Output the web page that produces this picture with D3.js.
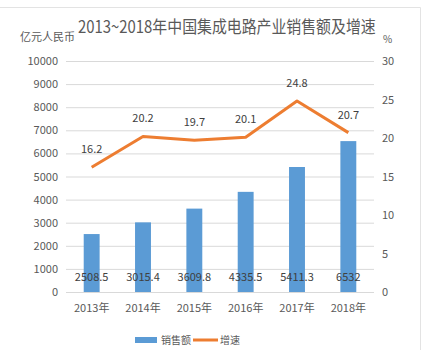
<!DOCTYPE html>
<html>
<head>
<meta charset="utf-8">
<script src="https://cdn.jsdelivr.net/npm/d3@7"></script>
<style>
  body { margin: 0; background: #fff; }
  svg text { font-family: "Liberation Sans Narrow", "Noto Sans CJK SC", sans-serif; fill: #595959; }
</style>
</head>
<body>
<svg width="432" height="350"></svg>
<script>
// 数据
const years = ["2013年", "2014年", "2015年", "2016年", "2017年", "2018年"];
const sales = [2508.5, 3015.4, 3609.8, 4335.5, 5411.3, 6532];
const growth = [16.2, 20.2, 19.7, 20.1, 24.8, 20.7];
const leftTicks = [0, 1000, 2000, 3000, 4000, 5000, 6000, 7000, 8000, 9000, 10000];
const rightTicks = [0, 5, 10, 15, 20, 25, 30];

const svg = d3.select("svg");
const plot = { left: 66, right: 374, top: 61, bottom: 292 };

// 外框
svg.append("path")
   .attr("d", "M0,7.5H420.5V350")
   .attr("fill", "none")
   .attr("stroke", "#e3e3e3");

// 比例尺
const x = d3.scaleBand()
            .domain(years)
            .range([plot.left, plot.right])
            .paddingInner(0.69)
            .paddingOuter(0.345);

const yL = d3.scaleLinear().domain([0, 10000]).range([plot.bottom, plot.top]);
const yR = d3.scaleLinear().domain([0, 30]).range([plot.bottom, plot.top]);

// 网格线
svg.append("g")
   .selectAll("line")
   .data(leftTicks)
   .enter()
   .append("line")
   .attr("x1", plot.left)
   .attr("x2", plot.right)
   .attr("y1", d => yL(d) + 0.5)
   .attr("y2", d => yL(d) + 0.5)
   .attr("stroke", "#d9d9d9");

// 左轴
const axL = svg.append("g")
   .attr("transform", `translate(${plot.left}, 0)`)
   .call(d3.axisLeft(yL).tickValues(leftTicks).tickSize(0).tickPadding(8).tickFormat(d3.format("d")));
axL.select(".domain").remove();
axL.selectAll("text").style("font-size", "11px").attr("fill", "#595959");

// 右轴
const axR = svg.append("g")
   .attr("transform", `translate(${plot.right}, 0)`)
   .call(d3.axisRight(yR).tickValues(rightTicks).tickSize(0).tickPadding(8));
axR.select(".domain").remove();
axR.selectAll("text").style("font-size", "11px").attr("fill", "#595959");

// X 轴
const axX = svg.append("g")
   .attr("transform", `translate(0, ${plot.bottom})`)
   .call(d3.axisBottom(x).tickSize(0).tickPadding(12));
axX.select(".domain").remove();
axX.selectAll("text").style("font-size", "11px").attr("fill", "#595959");

// 柱子
svg.selectAll(".bar")
   .data(years)
   .enter()
   .append("rect")
   .attr("class", "bar")
   .attr("x", d => x(d))
   .attr("width", x.bandwidth())
   .attr("y", (d, i) => yL(sales[i]))
   .attr("height", (d, i) => plot.bottom - yL(sales[i]))
   .attr("fill", "#5B9BD5");

// 柱子标签
svg.selectAll(".barlabel")
   .data(years)
   .enter()
   .append("text")
   .attr("x", d => x(d) + x.bandwidth() / 2)
   .attr("y", plot.bottom - 11)
   .attr("text-anchor", "middle")
   .style("font-size", "11px")
   .style("fill", "#404040")
   .text((d, i) => sales[i]);

// 折线
const line = d3.line()
               .x(d => x(d.year) + x.bandwidth() / 2)
               .y(d => yR(d.value));

const pts = years.map((d, i) => ({ year: d, value: growth[i] }));

svg.append("path")
   .datum(pts)
   .attr("fill", "none")
   .attr("stroke", "#ED7D31")
   .attr("stroke-width", 3)
   .attr("stroke-linejoin", "round")
   .attr("d", line);

svg.selectAll(".linelabel")
   .data(pts)
   .enter()
   .append("text")
   .attr("x", d => x(d.year) + x.bandwidth() / 2)
   .attr("y", d => yR(d.value) - 14)
   .attr("text-anchor", "middle")
   .style("font-size", "11px")
   .style("fill", "#404040")
   .text(d => d.value);

// 标题（原图字体偏窄，横向压缩）
const title = svg.append("text")
   .style("font-size", "17px")
   .text("2013~2018年中国集成电路产业销售额及增速");
const titleW = title.node().getComputedTextLength();
title.attr("transform", `translate(78, 33) scale(${Math.min(1, 298 / titleW)}, 1)`);

svg.append("text")
   .attr("x", 20)
   .attr("y", 41)
   .style("font-size", "11px")
   .text("亿元人民币");

svg.append("text")
   .attr("x", 383)
   .attr("y", 43)
   .style("font-size", "10px")
   .text("%");

// 图例
const legend = svg.append("g").attr("transform", "translate(0, 340)");
legend.append("rect")
      .attr("x", 135).attr("y", -3)
      .attr("width", 22).attr("height", 6)
      .attr("fill", "#5B9BD5");
legend.append("text")
      .attr("x", 161).attr("y", 4)
      .style("font-size", "10px")
      .text("销售额");
legend.append("line")
      .attr("x1", 193).attr("x2", 218)
      .attr("y1", 0).attr("y2", 0)
      .attr("stroke", "#ED7D31")
      .attr("stroke-width", 3);
legend.append("text")
      .attr("x", 220).attr("y", 4)
      .style("font-size", "10px")
      .text("增速");
</script>
</body>
</html>
